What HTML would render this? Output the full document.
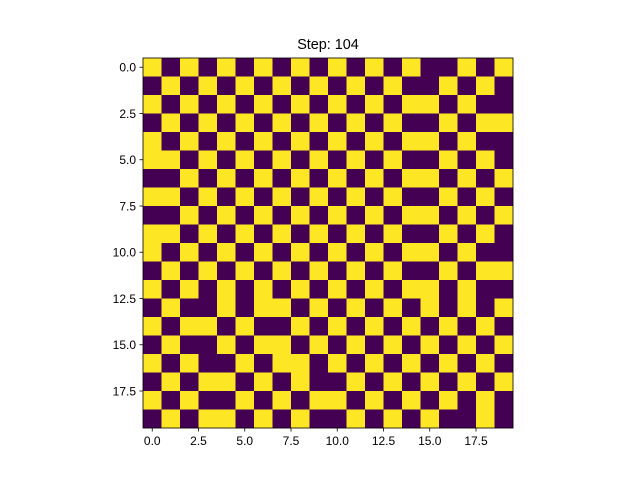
<!DOCTYPE html>
<html><head><meta charset="utf-8"><style>
body{margin:0;background:#fff;}
svg text{font-family:"Liberation Sans","DejaVu Sans",sans-serif;font-size:12px;fill:#000;}
</style></head><body>
<svg id="chart" width="640" height="480" xmlns="http://www.w3.org/2000/svg">
<rect width="640" height="480" fill="#fff"/>
<text x="328" y="49" text-anchor="middle" style="font-size:14.4px">Step: 104</text>
<g id="cells"></g>
<rect x="143" y="58" width="370" height="370" fill="none" stroke="#000" stroke-width="0.8"/>
<g id="axes"></g>
</svg>
<script>
const grid = [
"1010101010"+"1010100101",
"0101010101"+"0101001010",
"1010101010"+"1010110100",
"0101010101"+"0101001011",
"1010101010"+"1010110100",
"1101010101"+"0101001010",
"0010101010"+"1010110101",
"1101010101"+"0101001010",
"0010101010"+"1010110101",
"1101010101"+"0101001010",
"1010101010"+"1010110100",
"0101010101"+"0101001011",
"1010101010"+"1010110100",
"0100101101"+"0101010101",
"1011010010"+"1010101010",
"0100101101"+"0101010101",
"1010010110"+"1010101010",
"0101101010"+"0101010101",
"1010010101"+"1010101010",
"0101101010"+"0101010010"
];
const xTicks = [0, 2.5, 5, 7.5, 10, 12.5, 15, 17.5];
const yTicks = [0, 2.5, 5, 7.5, 10, 12.5, 15, 17.5];
const colors = ["#440154", "#fde725"];
const x0 = 143, y0 = 58, size = 370, n = 20, cw = size / n;
function xs(v){ return x0 + (v + 0.5) * cw; }
function ys(v){ return y0 + (v + 0.5) * cw; }
const NS = "http://www.w3.org/2000/svg";
const cells = document.getElementById('cells');
grid.forEach((row, r) => {
  row.split('').forEach((c, k) => {
    const el = document.createElementNS(NS, 'rect');
    
    
    el.setAttribute('x', xs(k) - cw/2);
    el.setAttribute('y', ys(r) - cw/2);
    el.setAttribute('width', cw + 0.3);
    el.setAttribute('height', cw + 0.3);
    el.setAttribute('fill', colors[+c]);
    cells.appendChild(el);
  });
});
const axes = document.getElementById('axes');
xTicks.forEach(t => {
  const x = xs(t);
  const l = document.createElementNS(NS, 'line');
  
  
  l.setAttribute('x1', x); l.setAttribute('x2', x);
  l.setAttribute('y1', 428); l.setAttribute('y2', 431.5);
  l.setAttribute('stroke', '#000'); l.setAttribute('stroke-width', '0.8');
  axes.appendChild(l);
  const tx = document.createElementNS(NS, 'text');
  
  
  tx.setAttribute('x', x); tx.setAttribute('y', 445);
  tx.setAttribute('text-anchor', 'middle');
  tx.textContent = t.toFixed(1);
  axes.appendChild(tx);
});
yTicks.forEach(t => {
  const y = ys(t);
  const l = document.createElementNS(NS, 'line');
  
  
  l.setAttribute('x1', 139.5); l.setAttribute('x2', 143);
  l.setAttribute('y1', y); l.setAttribute('y2', y);
  l.setAttribute('stroke', '#000'); l.setAttribute('stroke-width', '0.8');
  axes.appendChild(l);
  const tx = document.createElementNS(NS, 'text');
  
  
  tx.setAttribute('x', 136); tx.setAttribute('y', y + 4.3);
  tx.setAttribute('text-anchor', 'end');
  tx.textContent = t.toFixed(1);
  axes.appendChild(tx);
});
</script>
</body></html>
